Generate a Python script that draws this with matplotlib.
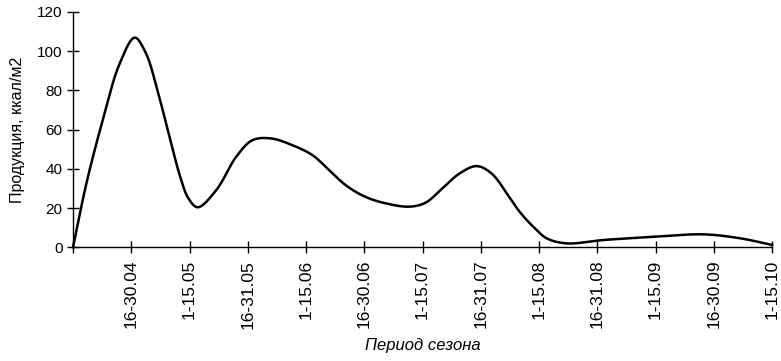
import matplotlib.pyplot as plt
import numpy as np

plt.rcParams['font.family'] = ['Liberation Sans', 'DejaVu Sans']

# Подписи периодов (деления оси X, позиции 1..12; 0 - начало оси)
periods = ["16-30.04", "1-15.05", "16-31.05", "1-15.06", "16-30.06", "1-15.07",
           "16-31.07", "1-15.08", "16-31.08", "1-15.09", "16-30.09", "1-15.10"]

# Точки кривой (позиция в делениях оси, продукция)
curve_pos = [0.0, 0.23, 0.51, 0.80, 1.06, 1.25, 1.45, 1.65, 1.85, 1.98, 2.14,
             2.46, 2.80, 3.08, 3.40, 3.77, 4.11, 4.34, 4.68, 5.02, 5.37, 5.77,
             6.05, 6.34, 6.62, 6.93, 7.19, 7.48, 7.67, 7.90, 8.13, 8.47, 9.10,
             10.01, 10.82, 11.45, 12.0]
curve_val = [0.0, 32.6, 64.8, 93.6, 106.9, 99.0, 80.0, 57.0, 35.0, 25.0, 20.4,
             29.2, 46.1, 54.6, 55.5, 52.0, 47.0, 41.0, 31.7, 25.7, 22.4, 20.7,
             22.7, 30.0, 37.3, 41.4, 37.5, 26.0, 18.0, 10.5, 4.6, 2.0, 3.7,
             5.4, 6.6, 4.6, 1.2]


# Сглаженная линия: центростремительный сплайн Catmull-Rom
# (параметризация считается в пикселях рисунка: 1 деление ~ 58 px, 1 ккал ~ 2 px)
def smooth(x, y, n=25, sx=58.2, sy=1.96):
    P = np.column_stack([np.asarray(x, float) * sx, np.asarray(y, float) * sy])
    P = np.vstack([2 * P[0] - P[1], P, 2 * P[-1] - P[-2]])
    pts = []
    for i in range(1, len(P) - 2):
        p0, p1, p2, p3 = P[i - 1], P[i], P[i + 1], P[i + 2]
        t0 = 0.0
        t1 = t0 + np.linalg.norm(p1 - p0) ** 0.5
        t2 = t1 + np.linalg.norm(p2 - p1) ** 0.5
        t3 = t2 + np.linalg.norm(p3 - p2) ** 0.5
        t = np.linspace(t1, t2, n, endpoint=False)[:, None]
        a1 = (t1 - t) / (t1 - t0) * p0 + (t - t0) / (t1 - t0) * p1
        a2 = (t2 - t) / (t2 - t1) * p1 + (t - t1) / (t2 - t1) * p2
        a3 = (t3 - t) / (t3 - t2) * p2 + (t - t2) / (t3 - t2) * p3
        b1 = (t2 - t) / (t2 - t0) * a1 + (t - t0) / (t2 - t0) * a2
        b2 = (t3 - t) / (t3 - t1) * a2 + (t - t1) / (t3 - t1) * a3
        c = (t2 - t) / (t2 - t1) * b1 + (t - t1) / (t2 - t1) * b2
        pts.append(c)
    pts.append(P[-2][None, :])
    pts = np.vstack(pts)
    return pts[:, 0] / sx, pts[:, 1] / sy


cx, cy = smooth(curve_pos, curve_val)

fig = plt.figure(figsize=(7.81, 3.61), dpi=100)
ax = fig.add_axes([0.0935, 0.315, 0.895, 0.652])

ax.plot(cx, cy, color='black', linewidth=1.8, clip_on=False)

ax.set_xlim(0, 12)
ax.set_ylim(0, 120)

ax.set_xticks(range(0, 13))
ax.set_xticklabels([""] + periods, rotation=90, fontsize=12.5)
ax.set_yticks(range(0, 121, 20))
ax.tick_params(axis='y', labelsize=11, direction='inout', length=8, width=1)
ax.tick_params(axis='x', direction='inout', length=8, width=1, pad=5)

for s in ('top', 'right'):
    ax.spines[s].set_visible(False)
for s in ('left', 'bottom'):
    ax.spines[s].set_linewidth(1)

ax.set_xlabel("Период сезона", fontsize=12, style='italic', labelpad=7)
ax.set_ylabel("Продукция, ккал/м2", fontsize=11.5, labelpad=9)

fig.savefig("out.png", dpi=100)
